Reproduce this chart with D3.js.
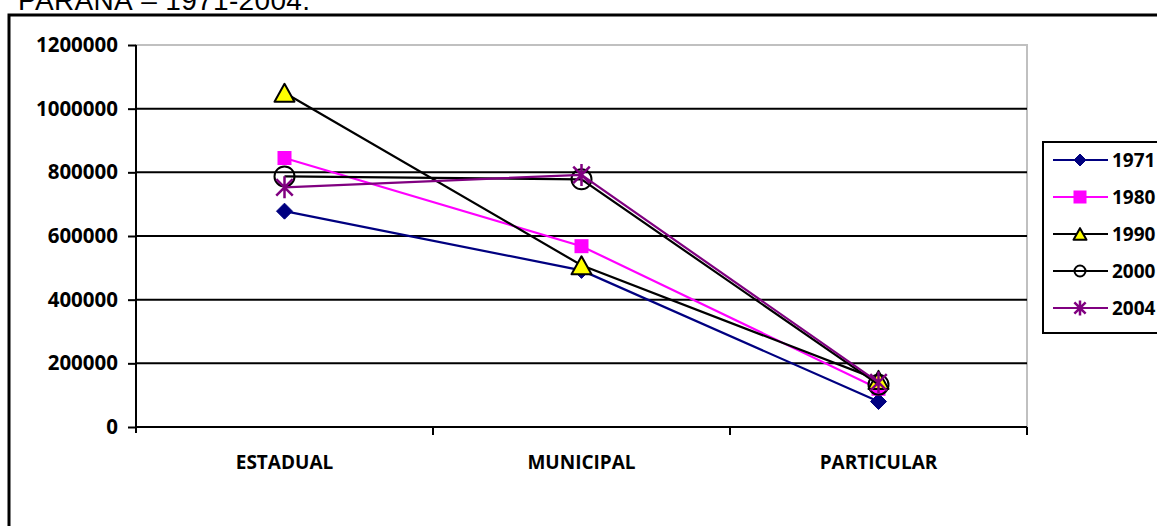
<!DOCTYPE html>
<html>
<head>
<meta charset="utf-8">
<script src="https://cdn.jsdelivr.net/npm/d3@7"></script>
<style>
  html, body { margin: 0; padding: 0; background: #fff; }
  svg { display: block; }
  text { font-family: "Open Sans", Lato, sans-serif; font-weight: 700; fill: #000; }
</style>
</head>
<body>
<svg id="chart" width="1157" height="526"></svg>
<script>
// Matrículas por dependência administrativa — Paraná, 1971-2004
const categories = ["ESTADUAL", "MUNICIPAL", "PARTICULAR"];
const years = ["1971", "1980", "1990", "2000", "2004"];
const values1971 = [678000, 492000, 80000];
const values1980 = [845000, 568000, 120000];
const values1990 = [1050000, 508000, 148000];
const values2000 = [787000, 778000, 133000];
const values2004 = [753000, 792000, 140000];
const yTicks = [0, 200000, 400000, 600000, 800000, 1000000, 1200000];
const titleText = "PARANÁ – 1971-2004.";

const seriesValues = [values1971, values1980, values1990, values2000, values2004];
const seriesStyle = [
  { color: "#000080", marker: "diamond" },
  { color: "#ff00ff", marker: "square" },
  { color: "#000000", marker: "triangle" },
  { color: "#000000", marker: "circle" },
  { color: "#800080", marker: "star" }
];
const series = years.map((y, i) => ({
  name: y,
  values: categories.map((c, j) => ({ cat: c, v: seriesValues[i][j] })),
  ...seriesStyle[i]
}));

const svg = d3.select("#chart");
const plot = { left: 136, right: 1027, top: 45, bottom: 427 };

const x = d3.scaleBand().domain(categories).range([plot.left, plot.right]).padding(0);
const y = d3.scaleLinear().domain([0, 1200000]).range([plot.bottom, plot.top]);
const cx = c => x(c) + x.bandwidth() / 2;

// Title (runs off the top edge of the page)
svg.append("text")
  .attr("x", 18).attr("y", 10)
  .attr("textLength", 292)
  .style("font-family", "'Liberation Sans', Arial, sans-serif")
  .style("font-weight", 400)
  .style("font-size", "28px")
  .text(titleText);

// Outer chart frame
svg.append("rect")
  .attr("x", 9).attr("y", 15)
  .attr("width", 1170).attr("height", 540)
  .attr("fill", "none").attr("stroke", "#000").attr("stroke-width", 3);

// Plot area border
svg.append("rect")
  .attr("x", plot.left).attr("y", plot.top)
  .attr("width", plot.right - plot.left).attr("height", plot.bottom - plot.top)
  .attr("fill", "none").attr("stroke", "#c0c0c0").attr("stroke-width", 2);

// Horizontal gridlines
svg.append("g").selectAll("line")
  .data(yTicks.filter(t => t > 0 && t < 1200000))
  .join("line")
  .attr("x1", plot.left).attr("x2", plot.right)
  .attr("y1", d => y(d)).attr("y2", d => y(d))
  .attr("stroke", "#000").attr("stroke-width", 2);

// Y axis
const yAxis = svg.append("g")
  .attr("transform", `translate(${plot.left},0)`)
  .call(d3.axisLeft(y).tickValues(yTicks).tickSize(8).tickPadding(10).tickFormat(d3.format("d")));
yAxis.select(".domain").attr("stroke", "#000").attr("stroke-width", 2)
  .attr("d", `M0,${plot.top}V${plot.bottom + 6}`);
yAxis.selectAll(".tick line").attr("stroke", "#000").attr("stroke-width", 2);
yAxis.selectAll(".tick text")
  .style("font-family", "'Open Sans', Lato, sans-serif")
  .style("font-weight", 700).style("font-size", "20.5px");

// X axis line, boundary ticks and category labels
const xAxis = svg.append("g").attr("transform", `translate(0,${plot.bottom})`);
xAxis.append("line")
  .attr("x1", plot.left).attr("x2", plot.right)
  .attr("stroke", "#000").attr("stroke-width", 2);
xAxis.selectAll("line.bt")
  .data(categories)
  .join("line").attr("class", "bt")
  .attr("x1", d => x(d) + x.bandwidth()).attr("x2", d => x(d) + x.bandwidth())
  .attr("y1", 0).attr("y2", 8)
  .attr("stroke", "#000").attr("stroke-width", 2);
xAxis.selectAll("text")
  .data(categories)
  .join("text")
  .attr("x", d => cx(d)).attr("y", 42)
  .attr("text-anchor", "middle")
  .style("font-size", "19px")
  .text(d => d);

// Marker drawing
function drawMarker(g, type, color, s) {
  if (type === "diamond") {
    g.append("path").attr("d", `M0,${-s}L${s},0L0,${s}L${-s},0Z`)
      .attr("fill", color).attr("stroke", color).attr("stroke-width", 1);
  } else if (type === "square") {
    g.append("rect").attr("x", -s).attr("y", -s).attr("width", 2 * s).attr("height", 2 * s)
      .attr("fill", color);
  } else if (type === "triangle") {
    const h = s * 0.9;
    g.append("path").attr("d", `M0,${-h}L${s},${h}L${-s},${h}Z`)
      .attr("fill", "#ffff00").attr("stroke", "#000").attr("stroke-width", 2).attr("stroke-linejoin", "round");
  } else if (type === "circle") {
    g.append("circle").attr("r", s)
      .attr("fill", "none").attr("stroke", "#000").attr("stroke-width", 2);
  } else if (type === "star") {
    const d = s * 0.75;
    g.append("path").attr("d", `M0,${-s}V${s}M${-d},${-d}L${d},${d}M${-d},${d}L${d},${-d}`)
      .attr("fill", "none").attr("stroke", color).attr("stroke-width", 2.5);
  }
}
const markerSize = { diamond: 8, square: 7, triangle: 10, circle: 10, star: 11 };
const legendSize = { diamond: 6, square: 6.5, triangle: 6.5, circle: 5.5, star: 7.5 };

const line = d3.line().x(d => cx(d.cat)).y(d => y(d.v));

// Series lines and markers
const sg = svg.append("g").selectAll("g").data(series).join("g");
sg.append("path")
  .attr("d", d => line(d.values))
  .attr("fill", "none").attr("stroke", d => d.color).attr("stroke-width", 2.2);
sg.each(function (s) {
  d3.select(this).selectAll("g.m").data(s.values).join("g").attr("class", "m")
    .attr("transform", d => `translate(${cx(d.cat)},${y(d.v)})`)
    .each(function () { drawMarker(d3.select(this), s.marker, s.color, markerSize[s.marker]); });
});

// Legend
const legend = svg.append("g");
legend.append("rect")
  .attr("x", 1043).attr("y", 142).attr("width", 140).attr("height", 191)
  .attr("fill", "#fff").attr("stroke", "#000").attr("stroke-width", 2);
const ly = d3.scalePoint().domain(years).range([160, 308]);
const li = legend.selectAll("g.item").data(series).join("g").attr("class", "item")
  .attr("transform", d => `translate(0,${ly(d.name)})`);
li.append("line").attr("x1", 1053).attr("x2", 1108)
  .attr("stroke", d => d.color).attr("stroke-width", 2);
li.append("g").attr("transform", "translate(1080,0)")
  .each(function (d) { drawMarker(d3.select(this), d.marker, d.color, legendSize[d.marker]); });
li.append("text").attr("x", 1112).attr("y", 0).attr("dy", "0.36em")
  .style("font-size", "19px")
  .text(d => d.name);
</script>
</body>
</html>
